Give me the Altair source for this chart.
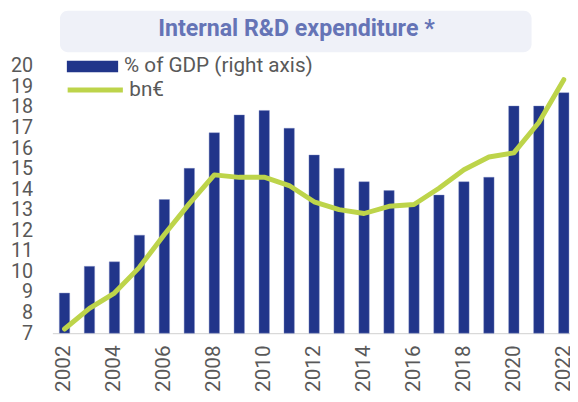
import altair as alt
import pandas as pd

years = list(range(2002, 2023))
pct_gdp = [0.99, 1.05, 1.06, 1.12, 1.20, 1.27, 1.35, 1.39, 1.40, 1.36, 1.30,
           1.27, 1.24, 1.22, 1.19, 1.21, 1.24, 1.25, 1.41, 1.41, 1.44]
bn_eur = [7.2, 8.2, 8.95, 10.2, 11.8, 13.3, 14.7, 14.58, 14.59, 14.18, 13.39,
          13.01, 12.82, 13.17, 13.26, 14.05, 14.95, 15.57, 15.77, 17.25, 19.33]
bar_name = "% of GDP (right axis)"
line_name = "bn€"
title_text = "Internal R&D expenditure *"
year_ticks = list(range(2002, 2023, 2))
left_ticks = list(range(7, 21))
pct_domain = [0.9, 1.5]

df = pd.DataFrame({"year": years, "pct": pct_gdp, "bn": bn_eur,
                   "bar_s": bar_name, "line_s": line_name})

FONT = "Roboto"
GRAY = "#595959"

x_enc = alt.X("year:O", title=None,
              scale=alt.Scale(paddingInner=0.585, paddingOuter=0.16, align=0.87),
              axis=alt.Axis(values=year_ticks, labelAngle=270, labelFontSize=21,
                            labelColor=GRAY, labelFont=FONT, ticks=False,
                            domainColor="#d9d9d9", domainWidth=1.5, labelPadding=12))

bars = alt.Chart(df).mark_bar(stroke="#7d8cc4", strokeWidth=0.4).encode(
    x=x_enc,
    y=alt.Y("pct:Q", axis=None, scale=alt.Scale(domain=pct_domain, zero=False, nice=False)),
    y2=alt.datum(pct_domain[0]),
    fill=alt.Fill("bar_s:N", scale=alt.Scale(domain=[bar_name], range=["#21358a"]),
                  legend=alt.Legend(orient="none", legendX=14.7, legendY=-25.5, title=None,
                                    symbolType="M-1,-0.225H1V0.225H-1Z", symbolSize=2704,
                                    symbolStrokeWidth=0, labelFontSize=21, labelFont=FONT,
                                    labelColor=GRAY, labelOffset=6, padding=0, labelLimit=400)),
)

line = alt.Chart(df).mark_line(strokeWidth=5, strokeCap="round", strokeJoin="round").encode(
    x=alt.X("year:O"),
    y=alt.Y("bn:Q", title=None, scale=alt.Scale(domain=[7, 20], nice=False, zero=False),
            axis=alt.Axis(values=left_ticks, labelFontSize=20, labelColor=GRAY, labelFont=FONT,
                          domain=False, ticks=False, grid=False, labelPadding=20)),
    stroke=alt.Stroke("line_s:N", scale=alt.Scale(domain=[line_name], range=["#bdd44a"]),
                      legend=alt.Legend(orient="none", legendX=13, legendY=-6, title=None,
                                        symbolType="stroke", symbolSize=3136,
                                        symbolStrokeWidth=5, labelFontSize=21, labelFont=FONT,
                                        labelColor=GRAY, labelOffset=4, padding=0, labelLimit=400)),
)

deco = alt.Data(values=[{"t": title_text}])
box = alt.Chart(deco).mark_rect(color="#eff1f8", cornerRadius=8).encode(
    x=alt.value(7.7), x2=alt.value(486), y=alt.value(-56), y2=alt.value(-14))
title = alt.Chart(deco).mark_text(font=FONT, fontSize=23.5, fontWeight="bold",
                                  color="#6574b6", align="center", baseline="alphabetic").encode(
    x=alt.value(247.5), y=alt.value(-30.5), text="t:N")

chart = alt.layer(bars, line, box, title).resolve_scale(y="independent").properties(
    width=525, height=271,
    autosize=alt.AutoSizeParams(type="none"),
    padding={"left": 45, "top": 56, "right": 0, "bottom": 60},
    background="white",
).configure_view(stroke=None)

chart.save("out.html", embed_options={"renderer": "svg", "actions": False})
